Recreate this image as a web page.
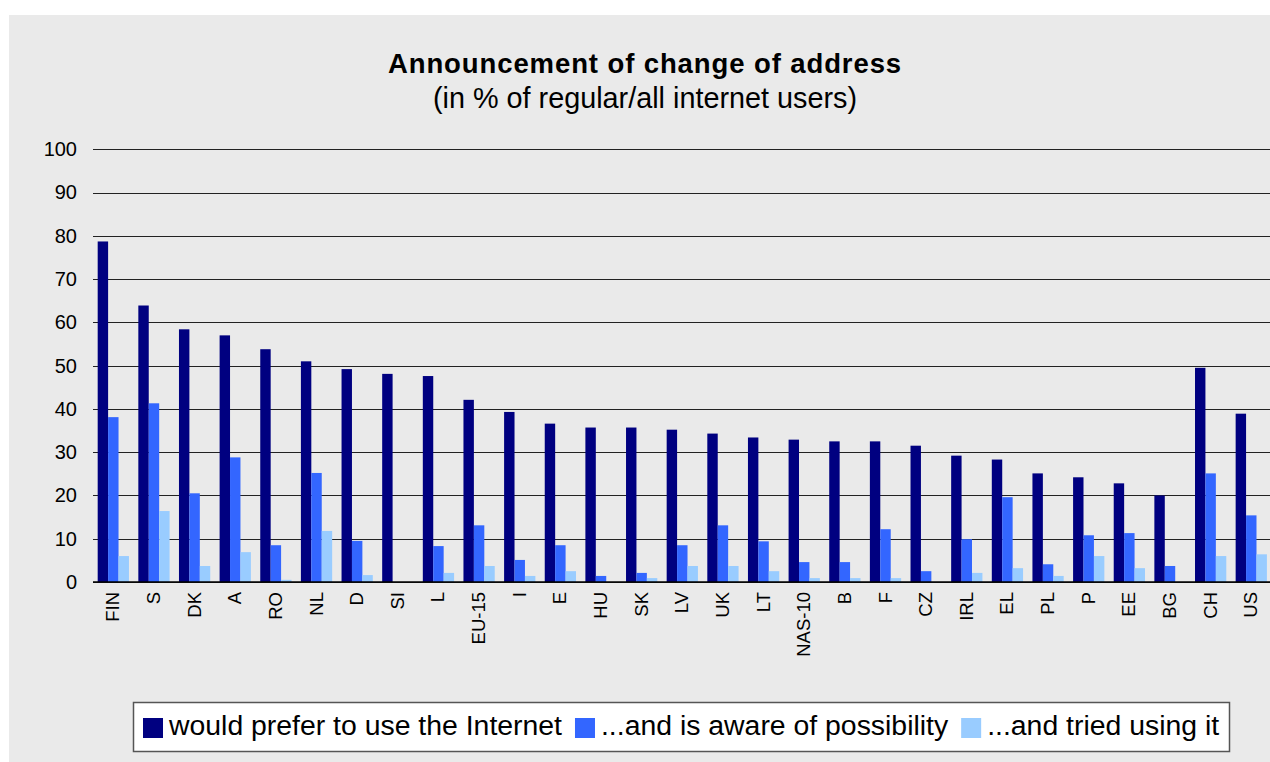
<!DOCTYPE html>
<html>
<head>
<meta charset="utf-8">
<script src="https://cdn.jsdelivr.net/npm/d3@7"></script>
<style>
  body { margin: 0; background: #fff; }
  svg { display: block; font-family: 'Liberation Sans', Arial, sans-serif; }
</style>
</head>
<body>
<div class="chart"></div>
<script>
const categories = ['FIN', 'S', 'DK', 'A', 'RO', 'NL', 'D', 'SI', 'L', 'EU-15', 'I', 'E', 'HU', 'SK', 'LV', 'UK', 'LT', 'NAS-10', 'B', 'F', 'CZ', 'IRL', 'EL', 'PL', 'P', 'EE', 'BG', 'CH', 'US'];
const prefer = [78.7, 63.9, 58.4, 57.0, 53.8, 51.0, 49.2, 48.1, 47.6, 42.1, 39.3, 36.6, 35.7, 35.7, 35.2, 34.3, 33.4, 32.9, 32.5, 32.5, 31.5, 29.2, 28.3, 25.1, 24.2, 22.8, 20.0, 49.5, 38.9];
const aware = [38.1, 41.3, 20.5, 28.8, 8.5, 25.2, 9.5, 0, 8.3, 13.1, 5.1, 8.5, 1.4, 2.1, 8.5, 13.1, 9.4, 4.6, 4.6, 12.2, 2.5, 9.9, 19.6, 4.1, 10.8, 11.3, 3.7, 25.1, 15.4];
const tried = [6.0, 16.4, 3.7, 6.9, 0.5, 11.8, 1.6, 0, 2.1, 3.7, 1.4, 2.5, 0, 0.9, 3.7, 3.7, 2.5, 0.9, 0.9, 0.9, 0, 2.1, 3.2, 1.4, 6.0, 3.2, 0, 6.0, 6.4];
const seriesNames = ['would prefer to use the Internet', '...and is aware of possibility', '...and tried using it'];
const yTicks = [0, 10, 20, 30, 40, 50, 60, 70, 80, 90, 100];

const width = 1270;
const height = 762;
const colors = ['#000080', '#3366ff', '#99ccff'];
const seriesValues = [prefer, aware, tried];

const svg = d3
  .select('.chart')
  .append('svg')
  .attr('width', width)
  .attr('height', height);

// grey chart area
svg
  .append('rect')
  .attr('x', 9)
  .attr('y', 15)
  .attr('width', width - 9)
  .attr('height', height - 15)
  .attr('fill', '#eaeaea');

const x0 = d3
  .scaleBand()
  .domain(categories)
  .range([93, 1271.6])
  .padding(0);
const x1 = d3
  .scaleBand()
  .domain(d3.range(3))
  .range([0, x0.bandwidth()])
  .paddingInner(0)
  .paddingOuter(0.45);
const y = d3
  .scaleLinear()
  .domain([0, 100])
  .range([582, 149.3]);

// title
svg
  .append('text')
  .attr('x', 645)
  .attr('y', 72.5)
  .attr('text-anchor', 'middle')
  .attr('font-size', 27.5)
  .attr('font-weight', 'bold')
  .attr('letter-spacing', 0.9)
  .text('Announcement of change of address');
svg
  .append('text')
  .attr('x', 645)
  .attr('y', 108)
  .attr('text-anchor', 'middle')
  .attr('font-size', 28.8)
  .text('(in % of regular/all internet users)');

// gridlines + y labels
const yAxis = d3
  .axisLeft(y)
  .tickValues(yTicks)
  .tickSize(-(1271.6 - 93))
  .tickPadding(16);
const gy = svg
  .append('g')
  .attr('transform', 'translate(93,0)')
  .call(yAxis);
gy.select('.domain').remove();
gy.selectAll('.tick line')
  .attr('stroke', '#222')
  .attr('stroke-width', 1)
  .attr('shape-rendering', 'crispEdges');
gy.selectAll('.tick text')
  .attr('font-size', 20)
  .attr('font-family', 'Liberation Sans, Arial, sans-serif')
  .attr('fill', '#000');

// bars
const groups = svg
  .selectAll('.grp')
  .data(categories)
  .enter()
  .append('g')
  .attr('class', 'grp')
  .attr('transform', d => {
    return 'translate(' + x0(d) + ',0)';
  });
groups
  .selectAll('rect')
  .data((d, i) => {
    return seriesValues.map((vals, s) => {
      return { s: s, v: vals[i] };
    });
  })
  .enter()
  .append('rect')
  .attr('x', d => {
    return x1(d.s);
  })
  .attr('width', x1.bandwidth())
  .attr('y', d => {
    return y(d.v);
  })
  .attr('height', d => {
    return y(0) - y(d.v);
  })
  .attr('fill', d => {
    return colors[d.s];
  });

// baseline
svg
  .append('line')
  .attr('x1', 93)
  .attr('x2', width)
  .attr('y1', y(0))
  .attr('y2', y(0))
  .attr('stroke', '#000')
  .attr('stroke-width', 1.5);

// x labels, rotated
svg
  .selectAll('.xlab')
  .data(categories)
  .enter()
  .append('text')
  .attr('class', 'xlab')
  .attr('transform', d => {
    return 'translate(' + (x0(d) + x0.bandwidth() / 2 + 6) + ',592) rotate(-90)';
  })
  .attr('text-anchor', 'end')
  .attr('font-size', 18.5)
  .text(d => {
    return d;
  });

// legend
svg
  .append('rect')
  .attr('x', 133.5)
  .attr('y', 702.5)
  .attr('width', 1096)
  .attr('height', 49)
  .attr('fill', '#fff')
  .attr('stroke', '#555')
  .attr('stroke-width', 1.5);

let lx = 143;
seriesNames.forEach((name, i) => {
  svg
    .append('rect')
    .attr('x', lx)
    .attr('y', 718)
    .attr('width', 20)
    .attr('height', 20)
    .attr('fill', colors[i]);
  const t = svg
    .append('text')
    .attr('x', lx + 26)
    .attr('y', 735)
    .attr('font-size', 28.4)
    .text(name);
  lx = lx + 26 + t.node().getComputedTextLength() + 13;
});
</script>
</body>
</html>
